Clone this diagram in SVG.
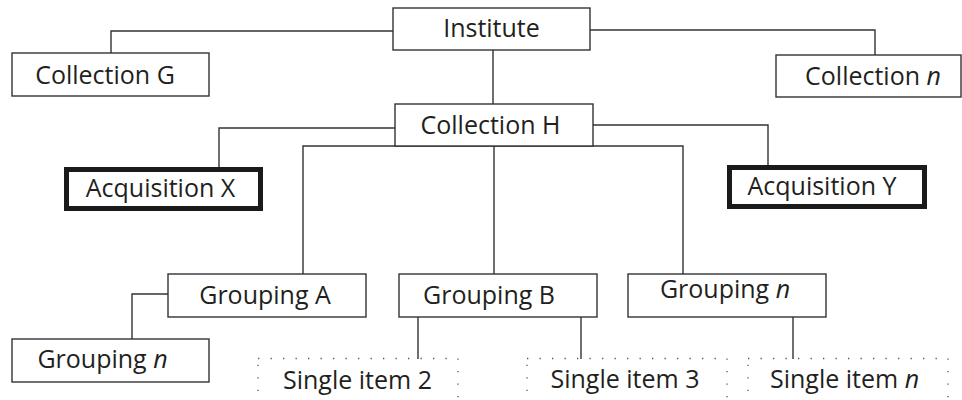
<svg xmlns="http://www.w3.org/2000/svg" width="962" height="400" viewBox="0 0 962 400">
  <style>
    .box { fill: #fff; stroke: #333; stroke-width: 1.4; }
    .heavy { fill: #fff; stroke: #1a1a1a; stroke-width: 5; }
    .dotted { fill: none; stroke: #555; stroke-width: 1.3; stroke-dasharray: 1.3 11.2; }
    .link { fill: none; stroke: #333; stroke-width: 1.4; }
    text { font-family: "Open Sans", "Noto Sans", sans-serif; font-size: 25px; fill: #231f20; text-anchor: middle; }
    .it { font-style: italic; }
  </style>

  <!-- connectors -->
  <g id="connectors">
    <path class="link" d="M393,31 H111 V53"/>
    <path class="link" d="M590,30 H875 V55"/>
    <path class="link" d="M493,50 V104"/>
    <path class="link" d="M395,128 H219 V167"/>
    <path class="link" d="M593,125 H768 V165"/>
    <path class="link" d="M303,274 V146 H683 V274"/>
    <path class="link" d="M494,146 V274"/>
    <path class="link" d="M168,294 H132 V339"/>
    <path class="link" d="M418,317 V359"/>
    <path class="link" d="M581,317 V359"/>
    <path class="link" d="M793,317 V359"/>
  </g>

  <g id="institute">
    <rect class="box" x="393" y="8" width="197" height="42"/>
    <text x="491.5" y="37">Institute</text>
  </g>

  <g id="collection-g">
    <rect class="box" x="12" y="53" width="197" height="43"/>
    <text x="105" y="84">Collection G</text>
  </g>

  <g id="collection-n">
    <rect class="box" x="776" y="55" width="185" height="42"/>
    <text x="873" y="85">Collection <tspan class="it">n</tspan></text>
  </g>

  <g id="collection-h">
    <rect class="box" x="395" y="104" width="198" height="42"/>
    <text x="490.5" y="134">Collection H</text>
  </g>

  <g id="acquisition-x">
    <rect class="heavy" x="66.5" y="169.5" width="194" height="39"/>
    <text x="160.5" y="197">Acquisition X</text>
  </g>

  <g id="acquisition-y">
    <rect class="heavy" x="729.5" y="167.5" width="195" height="39"/>
    <text x="822" y="195">Acquisition Y</text>
  </g>

  <g id="grouping-a">
    <rect class="box" x="168" y="274" width="198" height="43"/>
    <text x="265" y="304">Grouping A</text>
  </g>

  <g id="grouping-b">
    <rect class="box" x="399" y="274" width="198" height="43"/>
    <text x="489" y="304">Grouping B</text>
  </g>

  <g id="grouping-n">
    <rect class="box" x="628" y="274" width="198" height="43"/>
    <text x="725" y="298">Grouping <tspan class="it">n</tspan></text>
  </g>

  <g id="grouping-n-sub">
    <rect class="box" x="12" y="339" width="197" height="43"/>
    <text x="102.5" y="368">Grouping <tspan class="it">n</tspan></text>
  </g>

  <g id="single-item-2">
    <rect class="dotted" x="258" y="358.5" width="200" height="60"/>
    <text x="357.5" y="389">Single item 2</text>
  </g>

  <g id="single-item-3">
    <rect class="dotted" x="527" y="358.5" width="200" height="60"/>
    <text x="625" y="388">Single item 3</text>
  </g>

  <g id="single-item-n">
    <rect class="dotted" x="748" y="358.5" width="200" height="60"/>
    <text x="844.5" y="388">Single item <tspan class="it">n</tspan></text>
  </g>
</svg>
